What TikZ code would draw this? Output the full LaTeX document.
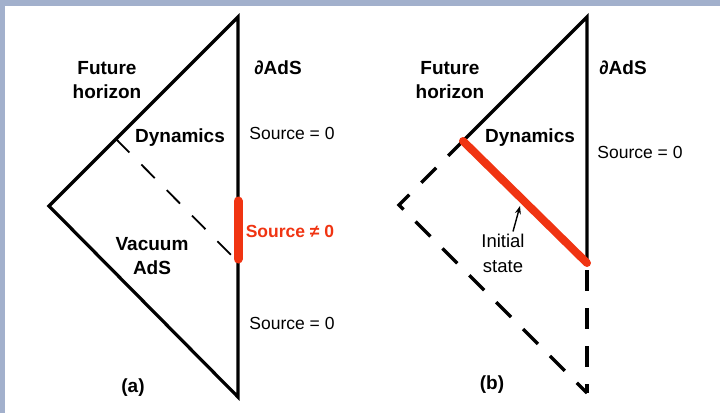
\documentclass[tikz,border=0pt]{standalone}
\usepackage{fontspec}
\setmainfont{Liberation Sans}
\usetikzlibrary{arrows.meta}
\definecolor{framecol}{RGB}{162,176,204}
\definecolor{srcred}{RGB}{240,52,18}
\tikzset{
  edge/.style={line width=3.2pt, line cap=round, line join=miter},
  thindash/.style={line width=1.8pt, dash pattern=on 19pt off 17pt},
  thickdash/.style={line width=3.2pt, dash pattern=on 21pt off 17pt, line join=miter},
  redbar/.style={line width=9pt, srcred, line cap=round},
  redline/.style={line width=8pt, srcred, line cap=round},
  boldlbl/.style={font=\fontsize{19}{24}\selectfont\bfseries, align=center, inner sep=0pt},
  reglbl/.style={font=\fontsize{17.5}{24}\selectfont, align=center, inner sep=0pt},
  notelbl/.style={font=\fontsize{18.5}{25}\selectfont, align=center, inner sep=0pt},
  redlbl/.style={font=\fontsize{17.5}{24}\selectfont\bfseries, text=srcred, inner sep=0pt},
}
\begin{document}
\begin{tikzpicture}[x=1pt, y=-1pt]
\useasboundingbox (0,0) rectangle (720,413);
\fill[framecol] (0,0) rectangle (720,6);
\fill[framecol] (0,0) rectangle (5,413);
% ---------------- (a)
\coordinate (aT) at (238,17);
\coordinate (aL) at (49,206);
\coordinate (aB) at (238,397);
\coordinate (aR1) at (238,201);
\coordinate (aR2) at (238,259);
\coordinate (aD1) at (116,139);
\coordinate (aD2) at (238,262);
\draw[thindash] (aD1) -- (aD2);
\draw[edge] (aT) -- (aL) -- (aB) -- cycle;
\draw[redbar] (aR1) -- (aR2);
\node[boldlbl] (aFH) at (107,80) {Future\\horizon};
\node[boldlbl] (aAdS) at (278,68) {∂AdS};
\node[boldlbl] (aDyn) at (180,138) {Dynamics};
\node[reglbl] (aS1) at (292,133) {Source = 0};
\node[redlbl] (aS2) at (290,231) {Source ≠ 0};
\node[boldlbl] (aVac) at (152,256) {Vacuum\\AdS};
\node[reglbl] (aS3) at (292,323) {Source = 0};
\node[boldlbl] (alab) at (133,388) {(a)};
% ---------------- (b)
\coordinate (bT) at (587,17);
\coordinate (bE) at (463,141);
\coordinate (bR) at (587,263);
\coordinate (bL) at (399,205);
\coordinate (bB) at (587,393);
\coordinate (bV) at (587,270);
\coordinate (bVe) at (587,393);
\draw[thickdash] (bE) -- (bL) -- (bB);
\draw[thickdash] (bV) -- (bVe);
\draw[edge] (bR) -- (bT) -- (bE);
\draw[redline] (bE) -- (bR);
\node[boldlbl] (bFH) at (450,80) {Future\\horizon};
\node[boldlbl] (bAdS) at (623,68) {∂AdS};
\node[boldlbl] (bDyn) at (530,138) {Dynamics};
\node[reglbl] (bS1) at (640,152) {Source = 0};
\node[notelbl] (bIS) at (503,253) {Initial\\state};
\coordinate (bTip) at (520,206);
\draw[line width=1.4pt, -{Stealth[length=8pt,width=6pt]}] (bIS.north -| 513,0) ++(0,-2) -- (bTip);
\node[boldlbl] (blab) at (492,385) {(b)};
\end{tikzpicture}
\end{document}
